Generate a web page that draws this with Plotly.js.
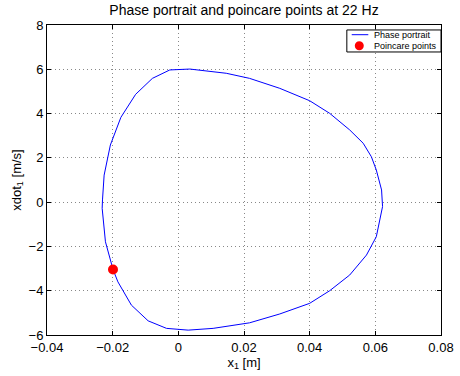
<!DOCTYPE html>
<html>
<head>
<meta charset="utf-8">
<script src="https://cdn.plot.ly/plotly-3.0.1.min.js"></script>
<style>html,body{margin:0;padding:0;background:#fff;}#chart{width:460px;height:376px;}</style>
</head>
<body>
<div id="chart"></div>
<script>
// Phase portrait (x1 [m], xdot1 [m/s])
const portraitX = [0.0035, 0.0146, 0.0217, 0.0309, 0.0400, 0.0461, 0.0522, 0.0563, 0.0588, 0.0603, 0.0619, 0.0622, 0.0603, 0.0573, 0.0522, 0.0461, 0.0400, 0.0309, 0.0217, 0.0106, 0.0030, -0.0036, -0.0092, -0.0143, -0.0184, -0.0199, -0.0222, -0.0232, -0.0231, -0.0226, -0.0207, -0.0175, -0.0130, -0.0079, -0.0026, 0.0035];
const portraitY = [6.01, 5.82, 5.59, 5.14, 4.58, 4.01, 3.26, 2.66, 2.05, 1.45, 0.55, -0.20, -1.56, -2.39, -3.29, -4.00, -4.57, -5.05, -5.45, -5.70, -5.78, -5.70, -5.36, -4.65, -3.60, -3.04, -1.79, -0.28, 0.10, 1.22, 2.58, 3.83, 4.87, 5.59, 5.97, 6.01];
// Poincare points
const poincareX = [-0.0199];
const poincareY = [-3.04];
const seriesNames = ['Phase portrait', 'Poincare points'];
const xTicks = [-0.04, -0.02, 0, 0.02, 0.04, 0.06, 0.08];
const xTickText = ['\u22120.04', '\u22120.02', '0', '0.02', '0.04', '0.06', '0.08'];
const yTicks = [-6, -4, -2, 0, 2, 4, 6, 8];
const yTickText = ['\u22126', '\u22124', '\u22122', '0', '2', '4', '6', '8'];

const FONT = 'Liberation Sans, Arial, Helvetica, sans-serif';
const BLUE = '#0000ff', RED = '#ff0000';
const traces = [
  {x: portraitX, y: portraitY, type: 'scatter', mode: 'lines', name: seriesNames[0],
   line: {color: BLUE, width: 1}},
  {x: poincareX, y: poincareY, type: 'scatter', mode: 'markers', name: seriesNames[1],
   marker: {color: RED, size: 10, symbol: 'circle'}}
];
const axisCommon = {
  showline: true, linecolor: '#000', linewidth: 1, mirror: 'ticks',
  ticks: 'inside', ticklen: 4, tickcolor: '#000', tickwidth: 1,
  showgrid: true, gridcolor: '#888', griddash: '1px,3px', gridwidth: 1,
  zeroline: false, tickfont: {family: FONT, size: 13, color: '#000'}
};
// compact MATLAB-style legend box (paper coordinates)
const legBox = {x0: 0.761, x1: 1.0, y0: 0.913, y1: 0.984};
const legRowY = [0.9687, 0.9332];
const shapes = [
  {type: 'rect', xref: 'paper', yref: 'paper', x0: legBox.x0, x1: legBox.x1, y0: legBox.y0, y1: legBox.y1,
   line: {color: '#000', width: 1}, fillcolor: '#fff', layer: 'above'},
  {type: 'line', xref: 'paper', yref: 'paper', x0: 0.7734, x1: 0.8155, y0: legRowY[0], y1: legRowY[0],
   line: {color: BLUE, width: 1}, layer: 'above'},
  {type: 'circle', xref: 'paper', yref: 'paper', xsizemode: 'pixel', ysizemode: 'pixel',
   xanchor: 0.7926, yanchor: legRowY[1], x0: -4.5, x1: 4.5, y0: -4.5, y1: 4.5,
   line: {width: 0}, fillcolor: RED, layer: 'above'}
];
const annotations = seriesNames.map((n, i) => ({
  text: n, xref: 'paper', yref: 'paper', x: 0.824, y: legRowY[i], xanchor: 'left', yanchor: 'middle',
  showarrow: false, font: {family: FONT, size: 9, color: '#000'}
}));
const layout = {
  width: 460, height: 376,
  margin: {l: 47, r: 19, t: 25, b: 41},
  paper_bgcolor: '#fff', plot_bgcolor: '#fff',
  font: {family: FONT, color: '#000'},
  title: {text: 'Phase portrait and poincare points at 22 Hz', font: {family: FONT, size: 14, color: '#000'},
          xref: 'paper', x: 0.5, xanchor: 'center', yref: 'container', y: 0.974, yanchor: 'middle'},
  xaxis: Object.assign({}, axisCommon, {
    range: [-0.04, 0.08], tickmode: 'array', tickvals: xTicks, ticktext: xTickText,
    title: {text: 'x<sub>1</sub> [m]', font: {family: FONT, size: 13, color: '#000'}, standoff: 2}
  }),
  yaxis: Object.assign({}, axisCommon, {
    range: [-6, 8], tickmode: 'array', tickvals: yTicks, ticktext: yTickText,
    title: {text: 'xdot<sub>1</sub> [m/s]', font: {family: FONT, size: 13, color: '#000'}, standoff: 4}
  }),
  showlegend: false,
  shapes: shapes,
  annotations: annotations
};
Plotly.newPlot('chart', traces, layout, {displayModeBar: false, staticPlot: true});
</script>
</body>
</html>
